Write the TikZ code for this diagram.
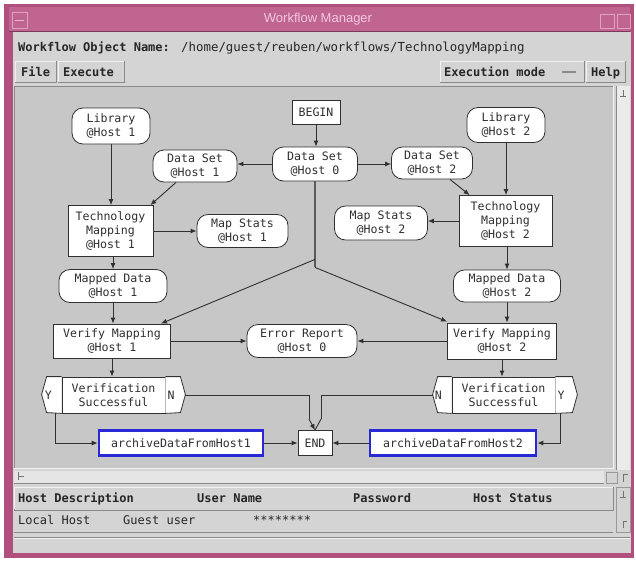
\documentclass[tikz,border=0pt]{standalone}
\usepackage{fontspec}
\usetikzlibrary{arrows.meta}
\newfontfamily\monof{DejaVu Sans Mono}
\newfontfamily\uisans{Liberation Sans}
\newcommand\nodefont{\monof\fontsize{11.6}{14}\selectfont}
\newcommand\uibold{\monof\bfseries\fontsize{12}{14}\selectfont}
\newcommand\uiplain{\monof\fontsize{12}{14}\selectfont}

\definecolor{framepink}{HTML}{B0507C}
\definecolor{titlepink}{HTML}{C06490}
\definecolor{titletext}{HTML}{F4C8E4}
\definecolor{panel}{HTML}{D4D4D4}
\definecolor{canvasbg}{HTML}{C7C7C7}
\definecolor{ink}{HTML}{303030}
\definecolor{trunk}{HTML}{5A5A5A}
\definecolor{selblue}{HTML}{2828D4}
\definecolor{bevdark}{HTML}{8A8A8A}
\definecolor{bevlight}{HTML}{F2F2F2}

\tikzset{
  box/.style={draw=ink, fill=white, line width=0.8pt, inner sep=0pt,
    align=center, font=\nodefont, text=ink},
  rbox/.style={box},
  dbox/.style={box, rounded corners=11pt},
  selbox/.style={box, draw=selblue, line width=2.6pt},
  link/.style={draw=ink, line width=0.9pt, -{Latex[length=6pt,width=5pt]}},
  plainlink/.style={draw=ink, line width=0.9pt},
  button/.style={fill=panel, draw=bevdark, line width=0.8pt},
  uilabel/.style={anchor=base west, inner sep=0pt, text=black!85}
}

\begin{document}
\begin{tikzpicture}[x=1pt,y=-1pt]
\useasboundingbox (0,0) rectangle (636,560);

% ---------- window frame ----------
\fill[white] (0,0) rectangle (636,560);
\fill[framepink] (4,4) rectangle (634,558);
\fill[titlepink] (9,7) rectangle (630,31);
\draw[framepink!70!black, line width=0.6pt] (9,31) -- (630,31);
\draw[titletext!60!titlepink, line width=0.8pt] (12,12) rectangle (27,28);
\draw[titletext!80!titlepink, line width=1pt] (15,20) -- (24,20);
\draw[titletext!60!titlepink, line width=0.8pt] (600,14) rectangle (614,28);
\draw[titletext!60!titlepink, line width=0.8pt] (617,14) rectangle (630,28);
\node[font=\uisans\fontsize{13}{15}\selectfont, text=titletext, inner sep=0pt]
  (title) at (318,19) {Workflow Manager};

% ---------- main panel ----------
\fill[panel] (13,32) rectangle (631,553);

% object name line
\node[uilabel, font=\uibold] (objlabel) at (18,51) {Workflow Object Name:};
\node[uilabel, font=\monof\fontsize{12.4}{14}\selectfont] (objpath) at (181,51)
  {/home/guest/reuben/workflows/TechnologyMapping};

% button row
\draw[button] (15,61) rectangle (56,82);
\draw[bevlight, line width=1pt] (15.5,81.5) -- (15.5,61.5) -- (55.5,61.5);
\draw[button] (58,61) rectangle (124,82);
\draw[bevlight, line width=1pt] (58.5,81.5) -- (58.5,61.5) -- (123.5,61.5);
\draw[button] (440,61) rectangle (584,82);
\draw[bevlight, line width=1pt] (440.5,81.5) -- (440.5,61.5) -- (583.5,61.5);
\draw[button] (586,61) rectangle (625,82);
\draw[bevlight, line width=1pt] (586.5,81.5) -- (586.5,61.5) -- (624.5,61.5);
\node[uilabel, font=\uibold] (bfile) at (21,76) {File};
\node[uilabel, font=\uibold] (bexec) at (63,76) {Execute};
\node[uilabel, font=\uibold] (bmode) at (444,76) {Execution mode};
\draw[bevdark, line width=1.2pt] (562,72) -- (576,72);
\node[uilabel, font=\uibold] (bhelp) at (591,76) {Help};

% workflow canvas with scroll bars
\fill[canvasbg] (14,86) rectangle (613,468);
\draw[bevdark, line width=1pt] (14,468) -- (14,86) -- (613,86);
\draw[bevlight, line width=1pt] (613,86) -- (613,468) -- (14,468);
\fill[black!8] (616,86) rectangle (630,470);
\draw[bevdark, line width=0.6pt] (616,86) -- (616,470);
\draw[black!55, line width=0.6pt] (620,96) -- (626,96) (623,90) -- (623,96);
\fill[black!10] (14,471) rectangle (604,484);
\draw[bevdark, line width=0.8pt] (14,483.5) -- (604,483.5);
\draw[black!55, line width=0.6pt] (18,472) -- (18,480) (18,476) -- (24,476);
\draw[black!40, line width=0.6pt] (606,472) rectangle (617,483);
\draw[black!55, line width=0.6pt] (623,482) -- (623,474) -- (628,474);

% host table
\draw[bevdark, fill=panel, line width=0.7pt] (14,487) rectangle (613,510);
\draw[bevlight, line width=0.7pt] (14.5,509) -- (14.5,487.5) -- (612.5,487.5);
\draw[bevdark, line width=0.7pt] (14,532) -- (613,532);
\draw[black!40, line width=0.6pt] (616,487) rectangle (630,532);
\draw[black!55, line width=0.6pt] (620,497) -- (626,497) (623,491) -- (623,497);
\draw[black!55, line width=0.6pt] (623,528) -- (623,521) -- (627,521);
\draw[bevdark, line width=0.7pt] (14,537) -- (630,537);
\draw[bevlight, line width=0.7pt] (14,538) -- (630,538);
\node[uilabel, font=\uibold] (hdesc) at (18,502) {Host Description};
\node[uilabel, font=\uibold] (huser) at (197,502) {User Name};
\node[uilabel, font=\uibold] (hpass) at (353,502) {Password};
\node[uilabel, font=\uibold] (hstat) at (473,502) {Host Status};
\node[uilabel, font=\uiplain] (rdesc) at (18,524) {Local Host};
\node[uilabel, font=\uiplain] (ruser) at (123,524) {Guest user};
\node[uilabel, font=\uiplain] (rpass) at (253,524) {********};

% ---------- workflow nodes ----------
\node[rbox, minimum width=48, minimum height=24] (begin) at (316,112) {BEGIN};
\node[dbox, minimum width=78, minimum height=36] (lib1) at (111,126) {Library\\@Host 1};
\node[dbox, minimum width=78, minimum height=35] (lib2) at (506,125) {Library\\@Host 2};
\node[dbox, minimum width=84, minimum height=32] (ds1) at (195,166) {Data Set\\@Host 1};
\node[dbox, minimum width=85, minimum height=34] (ds0) at (315,164) {Data Set\\@Host 0};
\node[dbox, minimum width=81, minimum height=32] (ds2) at (432,163) {Data Set\\@Host 2};
\node[rbox, minimum width=85, minimum height=51] (tm1) at (110.5,231) {Technology\\Mapping\\@Host 1};
\node[dbox, minimum width=91, minimum height=33] (ms1) at (242.5,231) {Map Stats\\@Host 1};
\node[dbox, minimum width=93, minimum height=34] (ms2) at (381,223) {Map Stats\\@Host 2};
\node[rbox, minimum width=93, minimum height=51] (tm2) at (505.5,221) {Technology\\Mapping\\@Host 2};
\node[dbox, minimum width=108, minimum height=33] (md1) at (113,286) {Mapped Data\\@Host 1};
\node[dbox, minimum width=107, minimum height=32] (md2) at (507,286) {Mapped Data\\@Host 2};
\node[rbox, minimum width=117, minimum height=34] (vm1) at (112,341) {Verify Mapping\\@Host 1};
\node[dbox, minimum width=110, minimum height=33] (err) at (302,341) {Error Report\\@Host 0};
\node[rbox, minimum width=109, minimum height=36] (vm2) at (502,341) {Verify Mapping\\@Host 2};

% decision nodes with Y / N side compartments
\node[rbox, minimum width=103, minimum height=36] (v1) at (113.5,395) {Verification\\Successful};
\draw[ink, fill=white, line width=0.8pt] (v1.north west) -- ++(-15,0) -- ++(-5,18) -- ++(5,18) -- (v1.south west);
\draw[ink, fill=white, line width=0.8pt] (v1.north east) -- ++(15,0) -- ++(5,18) -- ++(-5,18) -- (v1.south east);
\node[font=\nodefont, text=ink, inner sep=0pt, anchor=west] (v1y) at ([xshift=-17pt]v1.west) {Y};
\node[font=\nodefont, text=ink, inner sep=0pt, anchor=west] (v1n) at ([xshift=2pt]v1.east) {N};
\coordinate (v1out) at ([xshift=20pt]v1.east);
\coordinate (v1yes) at ([xshift=-6pt]v1.south west);

\node[rbox, minimum width=103, minimum height=36] (v2) at (503.5,395) {Verification\\Successful};
\draw[ink, fill=white, line width=0.8pt] (v2.north west) -- ++(-14,0) -- ++(-5,18) -- ++(5,18) -- (v2.south west);
\draw[ink, fill=white, line width=0.8pt] (v2.north east) -- ++(17,0) -- ++(5,18) -- ++(-5,18) -- (v2.south east);
\node[font=\nodefont, text=ink, inner sep=0pt, anchor=west] (v2n) at ([xshift=-17pt]v2.west) {N};
\node[font=\nodefont, text=ink, inner sep=0pt, anchor=west] (v2y) at ([xshift=2pt]v2.east) {Y};
\coordinate (v2out) at ([xshift=-19pt]v2.west);
\coordinate (v2yes) at ([xshift=5pt]v2.south east);

\node[selbox, minimum width=164, minimum height=25] (arch1) at (181,443) {archiveDataFromHost1};
\node[rbox, minimum width=34, minimum height=25] (endn) at (315,443) {END};
\node[selbox, minimum width=166, minimum height=25] (arch2) at (453,443) {archiveDataFromHost2};

% ---------- connectors ----------
\draw[link] (begin.south) -- (begin.south |- ds0.north);
\draw[link] (ds0.west) -- (ds0.west -| ds1.east);
\draw[link] (ds0.east) -- (ds0.east -| ds2.west);
\draw[link] (lib1.south) -- (lib1.south |- tm1.north);
\draw[link] (lib2.south) -- (lib2.south |- tm2.north);
\draw[link] ([xshift=-19pt]ds1.south) -- ([xshift=-3pt]tm1.north east);
\draw[link] ([xshift=18pt]ds2.south) -- ([xshift=11pt]tm2.north west);
\draw[link] (tm1.east) -- (tm1.east -| ms1.west);
\draw[link] (tm2.west) -- (tm2.west -| ms2.east);
\draw[link] (md1.north |- tm1.south) -- (md1.north);
\draw[link] (md2.north |- tm2.south) -- (md2.north);
\draw[link] (md1.south) -- (md1.south |- vm1.north);
\draw[link] (md2.south) -- (md2.south |- vm2.north);

% trunk from the central data set, splitting towards both verifications
\coordinate (splitL) at ([yshift=-78pt]ds0.south);
\coordinate (splitR) at ([yshift=-86pt]ds0.south);
\draw[trunk, line width=1.4pt] (ds0.south) -- (splitR);
\draw[link] (splitL) -- ([xshift=-10pt]vm1.north east);
\draw[link] (splitR) -- ([yshift=1pt]vm2.north west);

\draw[link] (vm1.east) -- (err.west);
\draw[link] (vm2.west) -- (err.east);
\draw[link] (vm1.south) -- (vm1.south |- v1.north);
\draw[link] (vm2.south) -- (vm2.south |- v2.north);

% both "N" exits merge into END
\coordinate (endL) at ([xshift=-6pt,yshift=11pt]endn.north);
\coordinate (endR) at ([xshift=6pt,yshift=11pt]endn.north);
\draw[plainlink] (v1out) -| (endL);
\draw[plainlink] (v2out) -| (endR);
\draw[plainlink] (endR) -- (endn.north);
\draw[link] (endL) -- (endn.north);

% "Y" exits lead to the archive steps
\draw[link] (v1yes) |- (arch1.west);
\draw[link] (v2yes) |- (arch2.east);
\draw[link] (arch1.east) -- (endn.west);
\draw[link] (arch2.west) -- (endn.east);
\end{tikzpicture}
\end{document}
